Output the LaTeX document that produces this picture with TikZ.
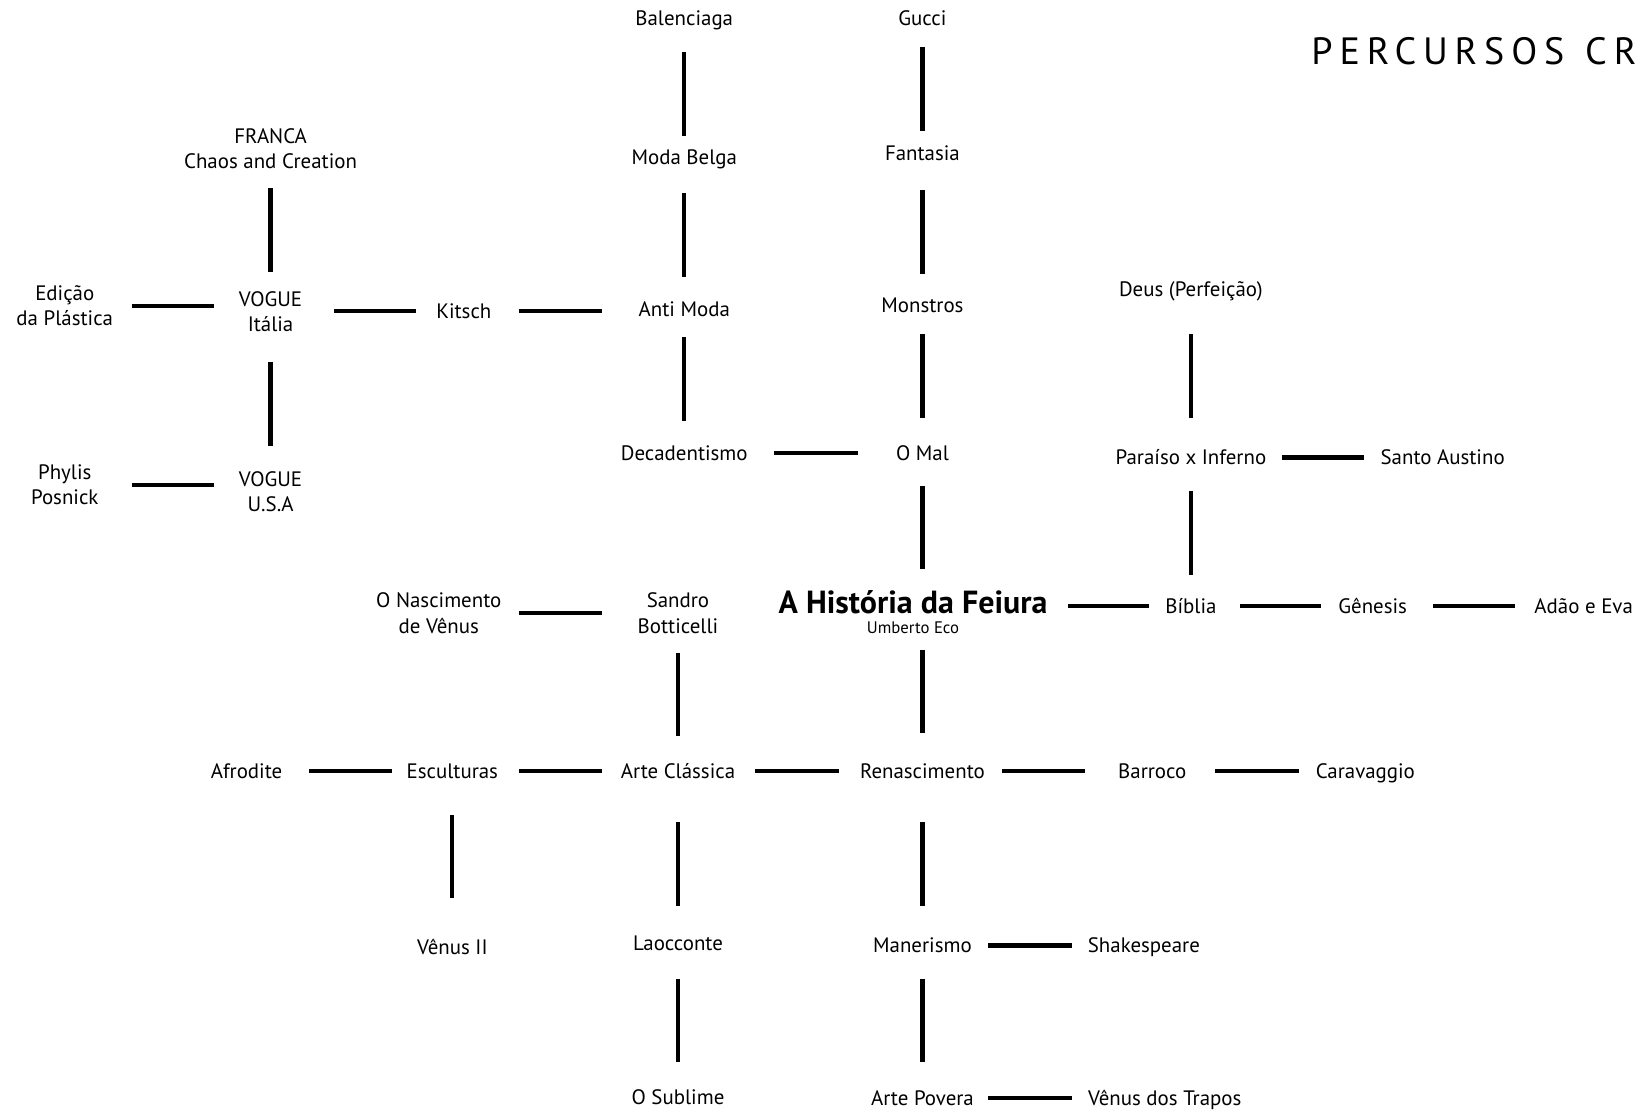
\documentclass[tikz,border=0pt]{standalone}
\usepackage{fontspec}
\setmainfont{PT Sans}
\begin{document}
\begin{tikzpicture}[x=0.5pt,y=-0.5pt,
  lbl/.style={font=\fontsize{10}{12}\selectfont, inner sep=0pt, text height=7pt, text depth=0pt},
  lbltwo/.style={font=\fontsize{10}{12}\selectfont, inner sep=0pt, align=center},
  conn/.style={line width=2pt, line cap=butt}]
\fill[white] (0,0) rectangle (1568,1064);
\useasboundingbox (0,0) rectangle (1568,1064);

% title
\node[anchor=base west, inner sep=0pt, font=\fontsize{18.2}{20}\selectfont\addfontfeature{LetterSpace=18}] (title) at (1255,62) {PERCURSOS\hspace{10pt}CR};

% nodes
\node[lbl] (bal) at (655,17) {Balenciaga};
\node[lbl] (mbe) at (655,150) {Moda Belga};
\node[lbl] (ant) at (655,296) {Anti Moda};
\node[lbl] (dec) at (655,434) {Decadentismo};
\node[lbl] (guc) at (883,17) {Gucci};
\node[lbl] (fan) at (883,147) {Fantasia};
\node[lbl] (mon) at (883,292) {Monstros};
\node[lbl] (mal) at (883,434) {O Mal};
\node[lbltwo] (fra) at (259,142) {FRANCA\\Chaos and Creation};
\node[lbltwo] (edi) at (62,293) {Edição\\da Plástica};
\node[lbltwo] (vit) at (259,298) {VOGUE\\Itália};
\node[lbl] (kit) at (444,298) {Kitsch};
\node[lbltwo] (phy) at (62,464) {Phylis\\Posnick};
\node[lbltwo] (vus) at (259,471) {VOGUE\\U.S.A};
\node[lbl] (deu) at (1140,277) {Deus (Perfeição)};
\node[lbl] (par) at (1140,438) {Paraíso x Inferno};
\node[lbl] (san) at (1381,438) {Santo Austino};
\node[lbltwo] (nas) at (420,587) {O Nascimento\\de Vênus};
\node[lbltwo] (bot) at (649,587) {Sandro\\Botticelli};
\node[inner sep=0pt, font=\fontsize{15.3}{17}\selectfont\bfseries, text height=10.5pt, text depth=0pt] (his) at (874,577) {A História da Feiura};
\node[inner sep=0pt, font=\fontsize{8}{9}\selectfont, text height=5.6pt, text depth=0pt] (eco) at (874,601) {Umberto Eco};
\node[lbl] (bib) at (1140,580) {Bíblia};
\node[lbl] (gen) at (1314,580) {Gênesis};
\node[lbl] (ada) at (1516,580) {Adão e Eva};
\node[lbl] (afr) at (236,738) {Afrodite};
\node[lbl] (esc) at (433,738) {Esculturas};
\node[lbl] (acl) at (649,738) {Arte Clássica};
\node[lbl] (ren) at (883,738) {Renascimento};
\node[lbl] (bar) at (1103,738) {Barroco};
\node[lbl] (car) at (1307,738) {Caravaggio};
\node[lbl] (ven) at (433,907) {Vênus II};
\node[lbl] (lao) at (649,903) {Laocconte};
\node[lbl] (man) at (883,905) {Manerismo};
\node[lbl] (sha) at (1095,905) {Shakespeare};
\node[lbl] (sub) at (649,1050) {O Sublime};
\node[lbl] (apo) at (883,1051) {Arte Povera};
\node[lbl] (vtr) at (1115,1051) {Vênus dos Trapos};

% connectors
\draw[conn,shorten <=16.5pt,shorten >=10pt] (bal.center) -- (mbe.center);
\draw[conn,shorten <=17.5pt,shorten >=15.5pt] (mbe.center) -- (ant.center);
\draw[conn,shorten <=13.5pt,shorten >=15.5pt] (ant.center) -- (dec.center);
\draw[conn,shorten <=14pt,shorten >=11pt] (guc.center) -- (fan.center);
\draw[conn,shorten <=17.5pt,shorten >=15pt] (fan.center) -- (mon.center);
\draw[conn,shorten <=14pt,shorten >=17pt] (mon.center) -- (mal.center);
\draw[conn,shorten <=43pt,shorten >=31pt] (dec.center) -- (mal.center);
\draw[conn,shorten <=19pt,shorten >=19pt] (fra.center) -- (vit.center);
\draw[conn,shorten <=32pt,shorten >=27pt] (edi.center) -- (edi.center -| vit.center);
\draw[conn,shorten <=30.5pt,shorten >=23pt] (vit.center) -- (kit.center);
\draw[conn,shorten <=26.5pt,shorten >=39.5pt] (kit.center) -- (kit.center -| ant.center);
\draw[conn,shorten <=24.5pt,shorten >=22pt] (vit.center) -- (vus.center);
\draw[conn,shorten <=32pt,shorten >=27pt] (phy.center) -- (phy.center -| vus.center);
\draw[conn,shorten <=15.5pt,shorten >=16pt] (mal.center) -- (mal.center |- his.center);
\draw[conn,shorten <=21.5pt,shorten >=19pt] (deu.center) -- (par.center);
\draw[conn,shorten <=43.5pt,shorten >=37.5pt] (par.center) -- (san.center);
\draw[conn,shorten <=16pt,shorten >=15pt] (par.center) -- (bib.center);
\draw[conn,shorten <=74pt,shorten >=20pt] (his.center |- bib.center) -- (bib.center);
\draw[conn,shorten <=23.5pt,shorten >=24.5pt] (bib.center) -- (gen.center);
\draw[conn,shorten <=29pt,shorten >=33pt] (gen.center) -- (ada.center);
\draw[conn,shorten <=38.5pt,shorten >=36.5pt] (nas.center) -- (bot.center);
\draw[conn,shorten <=19pt,shorten >=16.5pt] (bot.center) -- (acl.center);
\draw[conn,shorten <=10.5pt,shorten >=18pt] (ren.center |- eco.center) -- (ren.center);
\draw[conn,shorten <=30pt,shorten >=29pt] (afr.center) -- (esc.center);
\draw[conn,shorten <=32pt,shorten >=36.5pt] (esc.center) -- (acl.center);
\draw[conn,shorten <=37pt,shorten >=40pt] (acl.center) -- (ren.center);
\draw[conn,shorten <=38pt,shorten >=32pt] (ren.center) -- (bar.center);
\draw[conn,shorten <=30pt,shorten >=32pt] (bar.center) -- (car.center);
\draw[conn,shorten <=21pt,shorten >=23.5pt] (esc.center) -- (ven.center);
\draw[conn,shorten <=24.5pt,shorten >=18pt] (acl.center) -- (lao.center);
\draw[conn,shorten <=24.5pt,shorten >=19pt] (ren.center) -- (man.center);
\draw[conn,shorten <=31.5pt,shorten >=34.5pt] (man.center) -- (sha.center);
\draw[conn,shorten <=17pt,shorten >=16.5pt] (lao.center) -- (sub.center);
\draw[conn,shorten <=16pt,shorten >=17pt] (man.center) -- (apo.center);
\draw[conn,shorten <=31.5pt,shorten >=44.5pt] (apo.center) -- (vtr.center);
\end{tikzpicture}
\end{document}
